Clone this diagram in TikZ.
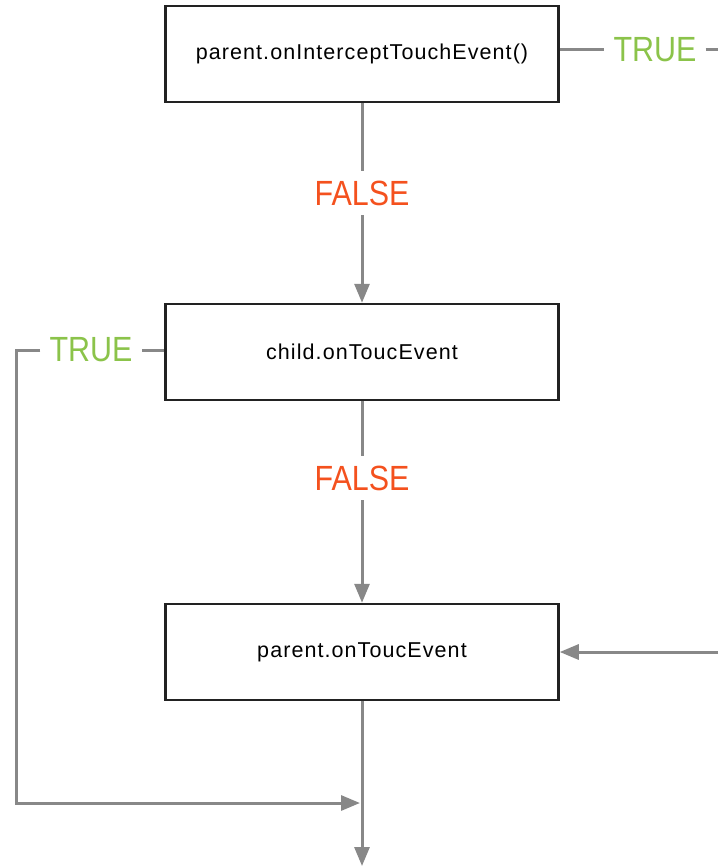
\documentclass[tikz,border=0pt]{standalone}
\usepackage{fontspec}
\setmainfont{Liberation Sans}
\newfontfamily\boxfont[LetterSpace=5]{Liberation Sans}
\newfontfamily\labfont[FakeStretch=0.87]{Liberation Sans}
\usetikzlibrary{arrows.meta}
\definecolor{wire}{HTML}{888888}
\definecolor{framec}{HTML}{222222}
\definecolor{yes}{HTML}{8BC34A}
\definecolor{no}{HTML}{F4511E}
\begin{document}
\begin{tikzpicture}[x=1pt,y=-1pt,
  stepbox/.style={draw=framec, line width=2.5pt, minimum width=393pt,
    minimum height=96pt, inner sep=0pt, fill=white,
    font=\boxfont\fontsize{21.5}{25}\selectfont},
  verdict/.style={inner xsep=9pt, inner ysep=0pt, minimum height=44pt,
    font=\labfont\fontsize{35}{40}\selectfont},
  yeslab/.style={verdict, text=yes},
  nolab/.style={verdict, text=no},
  wire/.style={draw=wire, line width=3pt},
  flow/.style={wire, -{Triangle[length=19pt,width=15pt]}}]
\useasboundingbox (0,0) rectangle (718,867);

% the three handlers
\node[stepbox] (b1) at (362,54)  {parent.onInterceptTouchEvent()};
\node[stepbox] (b2) at (362,352) {child.onToucEvent};
\node[stepbox] (b3) at (362,652) {parent.onToucEvent};

% outcome labels
\node[nolab]  (f1) at (362,193) {FALSE};
\node[nolab]  (f2) at (362,478) {FALSE};
\node[yeslab] (t1) at (655,50)  {TRUE};
\node[yeslab] (t2) at (91,350)  {TRUE};

% loose ends and corners
\coordinate (rt)   at (718,50);
\coordinate (rb)   at (718,652);
\coordinate (cl)   at (16,350);
\coordinate (mrg)  at (362,803);
\coordinate (out)  at (362,866);

% main path
\draw[wire] (b1) -- (f1);
\draw[flow] (f1) -- (b2);
\draw[wire] (b2) -- (f2);
\draw[flow] (f2) -- (b3);
\draw[flow] (b3) -- (out);

% intercepted branch
\draw[wire] (b1.east |- t1.west) -- (t1.west);
\draw[wire] (t1.east) -- (rt);
\draw[flow] (rb) -- (b3.east);

% consumed-by-child branch
\draw[wire] (b2.west |- t2.east) -- (t2.east);
\draw[flow] (t2.west) -- (cl) |- ([xshift=-2pt]mrg);
\end{tikzpicture}
\end{document}
